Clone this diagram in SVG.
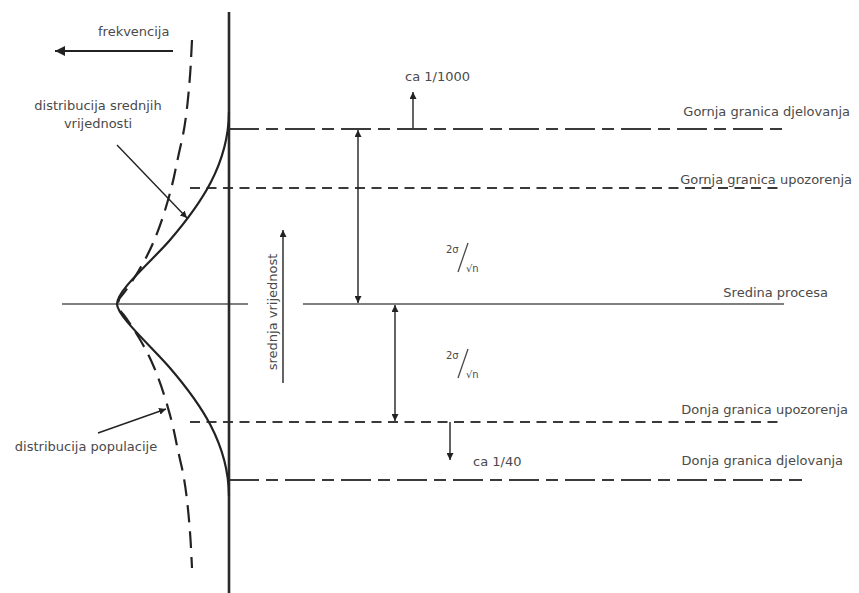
<svg xmlns="http://www.w3.org/2000/svg" width="859" height="593" viewBox="0 0 859 593">
<style>
text{font-family:"DejaVu Sans","Liberation Sans",sans-serif;font-size:13px;fill:#4a4a4a}
.axis{stroke:#2a2a2a;stroke-width:2.6;fill:none}
.act{stroke:#3a3a3a;stroke-width:2;stroke-dasharray:30 7 12 7;fill:none}
.warn{stroke:#3a3a3a;stroke-width:2;stroke-dasharray:10 6.5;fill:none}
.mid{stroke:#555;stroke-width:1.4;fill:none}
.arr{stroke:#222;stroke-width:1.4;fill:none}
.curve{stroke:#222;stroke-width:2.2;fill:none}
.dcurve{stroke:#222;stroke-width:2.2;fill:none;stroke-dasharray:17 9}
.f-small{font-size:10px}
.slash{stroke:#4a4a4a;stroke-width:1.3}
</style>
<defs>
<marker id="ah" viewBox="0 0 10 10" refX="10" refY="5" markerWidth="7" markerHeight="7" markerUnits="userSpaceOnUse" orient="auto-start-reverse">
<path d="M0,0 L10,5 L0,10 z" fill="#222"/>
</marker>
<marker id="ahs" viewBox="0 0 10 10" refX="10" refY="5" markerWidth="10" markerHeight="10" markerUnits="userSpaceOnUse" orient="auto-start-reverse">
<path d="M0,0 L10,5 L0,10 z" fill="#222"/>
</marker>
</defs>
<rect width="859" height="593" fill="#fff"/>

<g id="limits">
<line class="act" x1="229" y1="129" x2="784" y2="129"/>
<line class="warn" x1="190" y1="188" x2="784" y2="188"/>
<line class="mid" x1="62" y1="304" x2="248" y2="304"/>
<line class="mid" x1="303" y1="304" x2="784" y2="304"/>
<line class="warn" x1="190" y1="422" x2="784" y2="422"/>
<line class="act" x1="229" y1="480" x2="802" y2="480"/>
</g>

<g id="axis">
<line class="axis" x1="229" y1="12" x2="229" y2="593"/>
</g>

<g id="curve-means">
<path class="curve" d="M229,112 C228.5,165 200,205 170,240 C152,261 117,290 117,304 C117,316 152,347 170,368 C200,403 228.5,443 229,496"/>
</g>

<g id="curve-population">
<path class="dcurve" d="M192,40 L191,60 Q190,80 187.5,103.5 Q185,127 181.5,142 Q178,157 175,172 Q172,187 166,207 Q160,227 153.5,242 Q147,257 138.5,271 Q130,285 123,294 Q113,304 123,314 Q130,323 138.5,337 Q147,351 153.5,366 Q160,381 166,401 Q172,421 175,436 Q178,451 181.5,466 Q185,481 187.5,504.5 Q190,528 191,548 L192,568"/>
</g>

<g id="connectors">
<line class="arr" x1="173" y1="51" x2="55" y2="51" marker-end="url(#ahs)" style="stroke-width:2"/>
<line class="arr" x1="117" y1="145" x2="187" y2="218" marker-end="url(#ah)"/>
<line class="arr" x1="98" y1="433" x2="166" y2="409" marker-end="url(#ah)"/>
<line class="arr" x1="283" y1="383" x2="283" y2="230" marker-end="url(#ah)"/>
<line class="arr" x1="358" y1="130" x2="358" y2="303" marker-start="url(#ah)" marker-end="url(#ah)"/>
<line class="arr" x1="395" y1="305" x2="395" y2="421" marker-start="url(#ah)" marker-end="url(#ah)"/>
<line class="arr" x1="413" y1="128" x2="413" y2="92" marker-end="url(#ah)"/>
<line class="arr" x1="450" y1="422" x2="450" y2="460" marker-end="url(#ah)"/>
</g>

<g id="labels">
<text x="98" y="36">frekvencija</text>
<text x="98" y="110" text-anchor="middle">distribucija srednjih</text>
<text x="98" y="128" text-anchor="middle">vrijednosti</text>
<text x="86" y="451" text-anchor="middle">distribucija populacije</text>
<text x="405" y="81">ca 1/1000</text>
<text x="473" y="466">ca 1/40</text>
<text transform="translate(277,312) rotate(-90)" text-anchor="middle">srednja vrijednost</text>
<text x="850" y="116" text-anchor="end">Gornja granica djelovanja</text>
<text x="852" y="184" text-anchor="end">Gornja granica upozorenja</text>
<text x="828" y="297" text-anchor="end">Sredina procesa</text>
<text x="848" y="414" text-anchor="end">Donja granica upozorenja</text>
<text x="843" y="465" text-anchor="end">Donja granica djelovanja</text>
</g>

<g id="formula-upper">
<text class="f-small" x="446" y="253">2σ</text>
<line class="slash" x1="468" y1="243" x2="458" y2="272"/>
<text class="f-small" x="466" y="272">√n</text>
</g>
<g id="formula-lower">
<text class="f-small" x="446" y="359">2σ</text>
<line class="slash" x1="468" y1="349" x2="458" y2="378"/>
<text class="f-small" x="466" y="378">√n</text>
</g>
</svg>
